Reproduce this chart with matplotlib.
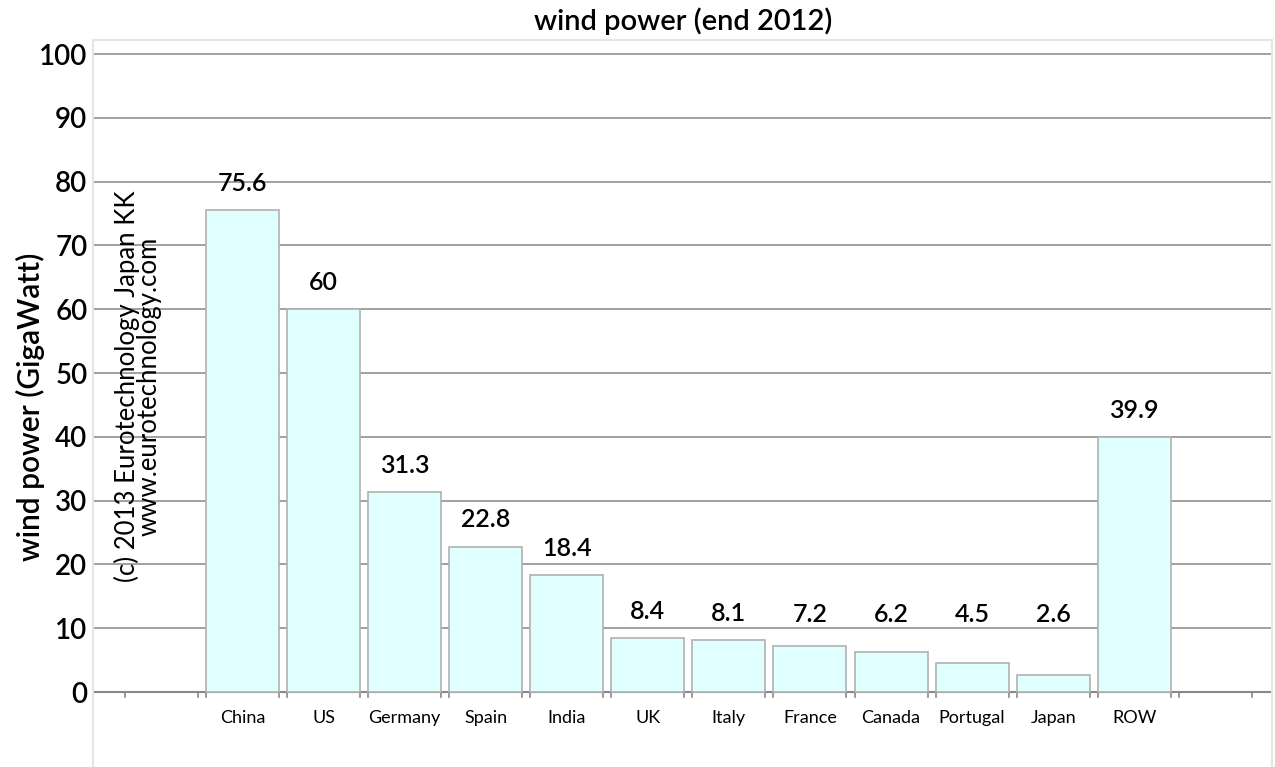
import matplotlib
matplotlib.use("Agg")
import matplotlib.pyplot as plt
import numpy as np

categories = ["China", "US", "Germany", "Spain", "India", "UK", "Italy", "France",
              "Canada", "Portugal", "Japan", "ROW"]
values = [75.6, 60, 31.3, 22.8, 18.4, 8.4, 8.1, 7.2, 6.2, 4.5, 2.6, 39.9]
value_labels = ["75.6", "60", "31.3", "22.8", "18.4", "8.4", "8.1", "7.2", "6.2", "4.5", "2.6", "39.9"]
yticks = [0, 10, 20, 30, 40, 50, 60, 70, 80, 90, 100]

plt.rcParams['font.family'] = ['Lato', 'DejaVu Sans']

fig = plt.figure(figsize=(12.75, 7.67), dpi=100)
ax = fig.add_axes([93/1275, 0.0, (1272-93)/1275, 1 - 40/767])

x = np.arange(len(categories))
width = 0.9
ax.bar(x, values, width=width, color="#e0ffff", edgecolor="#b0b0b0", linewidth=1.2, zorder=3)

for xi, v, lab in zip(x, values, value_labels):
    ax.text(xi, max(v + 3.0, 11.0), lab, ha="center", va="baseline", fontsize=18,
            fontweight="semibold", color="black", zorder=4)

ax.set_xlim(-1.845, 12.70)
ax.set_ylim(-11.75, 102.2)

ax.set_yticks(yticks)
ax.set_yticklabels([str(t) for t in yticks], fontsize=20, fontweight="semibold")
ax.tick_params(axis="y", length=0, pad=4)
ax.yaxis.grid(True, color="#999999", linewidth=1.3, zorder=1)
ax.set_axisbelow(True)

# x axis line at zero with edge ticks
ax.axhline(0, color="#888888", linewidth=1.5, zorder=2)
all_pos = np.arange(-1, len(categories) + 1)
edges = np.concatenate([all_pos - width/2, all_pos + width/2])
for e in edges:
    ax.plot([e, e], [0, -0.7], color="#888888", linewidth=1.2, zorder=2, clip_on=False)

ax.set_xticks(x)
ax.set_xticklabels([])
ax.tick_params(axis="x", length=0)
for xi, c in zip(x, categories):
    ax.text(xi, -4.0, c, ha="center", va="center", fontsize=13, color="black")

for s in ax.spines.values():
    s.set_color("#e6e6e6")
    s.set_linewidth(1.5)
ax.spines["bottom"].set_visible(False)

fig.text(683/1275, 1 - 21/767, "wind power (end 2012)", ha="center", va="center",
         fontsize=21, fontweight="semibold")
fig.text(30/1275, 1 - 407/767, "wind power (GigaWatt)", ha="center", va="center",
         rotation=90, fontsize=21.5, fontweight="semibold")
fig.text(138/1275, 1 - 386/767, "(c) 2013 Eurotechnology Japan KK\nwww.eurotechnology.com",
         ha="center", va="center", rotation=90, fontsize=18.5, linespacing=0.85)

fig.savefig("out.png", dpi=100)
